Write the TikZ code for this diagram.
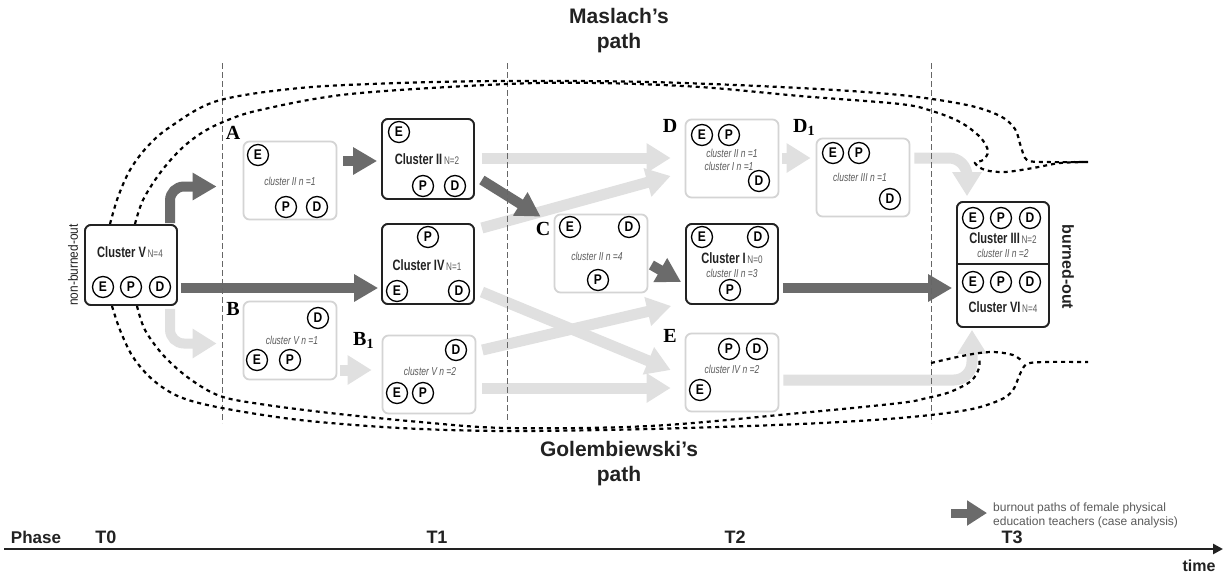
\documentclass[tikz,border=0pt]{standalone}
\usepackage{fontspec}
\setmainfont{Liberation Sans}
\newfontfamily\narrowf{Liberation Sans}[FakeStretch=0.74]
\newfontfamily\circf{Liberation Sans}[FakeStretch=0.86]
\newfontfamily\rotf{Liberation Sans}[FakeStretch=0.88]
\newfontfamily\labelserif{Liberation Serif}
\usetikzlibrary{arrows.meta,calc}

\definecolor{darkg}{HTML}{6B6B6B}
\definecolor{lightg}{HTML}{E0E0E0}
\definecolor{boxg}{HTML}{D4D4D4}
\definecolor{txtg}{HTML}{5A5A5A}
\definecolor{ink}{HTML}{222222}

\newcommand\pxsize[1]{\fontsize{#1}{#1}\selectfont}
\newcommand\clname[1]{{\narrowf\bfseries\pxsize{15}\color{ink}#1}}
\newcommand\clcount[1]{{\narrowf\pxsize{11}\color{txtg}#1}}
\newcommand\clsub[1]{{\narrowf\itshape\pxsize{11.5}\color{txtg}#1}}

\tikzset{
  darkbox/.style={draw=ink, fill=white, line width=1.8pt, rounded corners=6pt,
    minimum width=92pt, minimum height=80pt, inner sep=0pt},
  lightbox/.style={draw=boxg, fill=white, line width=1.8pt, rounded corners=6pt,
    minimum width=93pt, minimum height=78pt, inner sep=0pt},
  letter/.style={circle, draw=black, line width=1.3pt, minimum size=21pt,
    inner sep=0pt, font=\circf\bfseries\pxsize{14}},
  txt/.style={inner sep=0pt},
  tag/.style={inner sep=0pt, font=\labelserif\bfseries\pxsize{20}},
  darkarrow/.style={draw=darkg, line width=10pt, -{Triangle[length=24pt,width=26pt]}},
  lightarrow/.style={draw=lightg, line width=11pt, -{Triangle[length=24pt,width=28pt]}},
  phaseline/.style={draw=black!60, line width=0.8pt, dash pattern=on 6pt off 3pt},
  pathline/.style={draw=black, line width=2.2pt, dash pattern=on 4pt off 4pt},
  title/.style={align=center, inner sep=0pt, font=\bfseries\pxsize{21}, text=ink},
  axislabel/.style={inner sep=0pt, font=\bfseries\pxsize{18}, text=ink},
}

\begin{document}
\begin{tikzpicture}[x=1pt,y=-1pt]
\fill[white] (0,0) rectangle (1224,574);
\useasboundingbox (0,0) rectangle (1224,574);

% ---------- cluster boxes (placed first so connectors can refer to them) ----------
\node[darkbox]  (V)   at (131,265)   {};
\node[lightbox] (A)   at (290,180.5) {};
\node[lightbox] (B)   at (290,340.5) {};
\node[darkbox]  (II)  at (428,159)   {};
\node[darkbox]  (IV)  at (428,264)   {};
\node[lightbox] (B1)  at (429,374.5) {};
\node[lightbox] (C)   at (601,253.5) {};
\node[lightbox] (D)   at (732,158.5) {};
\node[darkbox]  (I)   at (732,264)   {};
\node[lightbox] (E)   at (732,372.5) {};
\node[lightbox] (D1)  at (863,177.5) {};
\node[darkbox, minimum height=125pt] (VI) at (1003,264.5) {};
\draw[ink, line width=1.8pt] ($(VI.west)+(0,-0.5)$) -- ($(VI.east)+(0,-0.5)$);

% ---------- transitions ----------
\draw[lightarrow] ($(II.east)+(7,-1)$) -- ($(D.west)+(-14,-0.5)$);
\draw[lightarrow] ($(IV.east)+(7,-36)$) -- ($(D.west)+(-14,17.5)$);
\draw[lightarrow] ($(IV.east)+(7,28)$) -- ($(E.west)+(-14,-2.5)$);
\draw[lightarrow] ($(B1.east)+(6,-24.5)$) -- ($(I.west)+(-14,42)$);
\draw[lightarrow] ($(B1.east)+(6,13.5)$) -- ($(E.west)+(-14,15.5)$);
\draw[lightarrow] ($(B.east)+(3,29.5)$) -- ($(B1.west)+(-10,-4.5)$);
\draw[lightarrow] ($(D.east)+(3,-0.5)$) -- ($(D1.west)+(-5,-19.5)$);
\draw[lightarrow, rounded corners=18pt] ($(D1.east)+(4,-19.5)$) -| ($(VI.north)+(-36,-5)$);
\draw[lightarrow, rounded corners=18pt] ($(E.east)+(4,7.5)$) -| ($(VI.south)+(-31,2)$);
\draw[lightarrow, line width=10pt, rounded corners=14pt] ($(V.south)+(39,3)$) |- ($(B.west)+(-26,3)$);

\draw[darkarrow, rounded corners=14pt] ($(V.north)+(39,-1)$) |- ($(A.west)+(-26,6)$);
\draw[darkarrow] ($(V.east)+(3,23)$) -- ($(IV.west)+(-3,24)$);
\draw[darkarrow] ($(A.east)+(6,-19.5)$) -- ($(II.west)+(-4,2)$);
\draw[darkarrow] ($(II.east)+(7,21)$) -- ($(C.north west)+(-13,3)$);
\draw[darkarrow] ($(C.east)+(3,11.5)$) -- ($(I.west)+(-4,18)$);
\draw[darkarrow] ($(I.east)+(4,24)$) -- ($(VI.west)+(-4,23.5)$);

% ---------- phase separators ----------
\draw[phaseline] (222,63) -- (222,423);
\draw[phaseline] (507,63) -- (507,423);
\draw[phaseline] (931,63) -- (931,423);

% ---------- Maslach's path (top) ----------
\draw[pathline] plot[smooth, tension=0.55] coordinates {
  (110,224) (118,197) (130,170) (147,147) (170,127) (217,101) (300,88)
  (400,83) (507,81) (650,82) (800,88) (900,95) (967,105) (1000,116)
  (1015,129) (1021,147) (1027,160) (1045,162) (1088,162)};
\draw[pathline] plot[smooth, tension=0.55] coordinates {
  (135,224) (143,200) (160,173) (180,150) (200,134) (223,122) (260,110)
  (350,94) (507,84) (600,83) (700,87) (800,96) (900,104) (932,111) (960,122)
  (980,137) (988,151) (983,160) (975,163) (985,170) (1005,172)
  (1033,168) (1060,163) (1088,162)};

% ---------- Golembiewski's path (bottom) ----------
\draw[pathline] plot[smooth, tension=0.55] coordinates {
  (112,306) (120,330) (133,357) (153,380) (180,397) (222,408) (300,420)
  (400,428) (507,431) (650,429) (800,424) (900,418) (967,410) (1000,400)
  (1013,390) (1020,374) (1027,364) (1045,362) (1088,362)};
\draw[pathline] plot[smooth, tension=0.55] coordinates {
  (137,306) (145,330) (164,356) (190,379) (220,396) (260,404) (330,413)
  (420,422) (507,428) (650,426) (800,413) (900,403) (927,398) (950,392)
  (971,381) (979,368) (979,357)};
\draw[pathline] plot[smooth, tension=0.55] coordinates {
  (931,363) (967,355) (992,352) (1013,355) (1023,362)};

% ---------- redraw boxes over the paths ----------
\node[darkbox]  at (V)  {};
\node[darkbox]  at (II) {};
\node[darkbox]  at (IV) {};
\node[darkbox]  at (I)  {};
\node[darkbox, minimum height=125pt] at (VI) {};
\draw[ink, line width=1.8pt] ($(VI.west)+(0,-0.5)$) -- ($(VI.east)+(0,-0.5)$);

% ---------- box contents ----------
% Cluster V
\node[txt] (Vt) at (130,252) {\clname{Cluster V}\,\clcount{N=4}};
\node[letter] (VE) at (103,287) {E};
\node[letter] (VP) at (131,287) {P};
\node[letter] (VD) at (160,287) {D};
% A
\node[letter] (AE) at (258,155) {E};
\node[txt] (At) at (290,181) {\clsub{cluster II n =1}};
\node[letter] (AP) at (286,207) {P};
\node[letter] (AD) at (317,207) {D};
% B
\node[letter] (BD) at (318,318) {D};
\node[txt] (Bt) at (292,340) {\clsub{cluster V n =1}};
\node[letter] (BE) at (257,360) {E};
\node[letter] (BP) at (290,360) {P};
% Cluster II
\node[letter] (IIE) at (399,132) {E};
\node[txt] (IIt) at (427,159) {\clname{Cluster II}\,\clcount{N=2}};
\node[letter] (IIP) at (423,186) {P};
\node[letter] (IID) at (455,186) {D};
% Cluster IV
\node[letter] (IVP) at (428,237) {P};
\node[txt] (IVt) at (427,265) {\clname{Cluster IV}\,\clcount{N=1}};
\node[letter] (IVE) at (397,291) {E};
\node[letter] (IVD) at (459,291) {D};
% B1
\node[letter] (B1D) at (456,350) {D};
\node[txt] (B1t) at (430,371) {\clsub{cluster V n =2}};
\node[letter] (B1E) at (397,393) {E};
\node[letter] (B1P) at (423,393) {P};
% C
\node[letter] (CE) at (570,227) {E};
\node[letter] (CD) at (629,227) {D};
\node[txt] (Ct) at (597,256) {\clsub{cluster II n =4}};
\node[letter] (CP) at (598,280) {P};
% D
\node[letter] (DE) at (702,135) {E};
\node[letter] (DP) at (729,135) {P};
\node[txt] (Dt1) at (732,153) {\clsub{cluster II n =1}};
\node[txt] (Dt2) at (729,166) {\clsub{cluster I n =1}};
\node[letter] (DD) at (759,181) {D};
% D1
\node[letter] (D1E) at (833,153) {E};
\node[letter] (D1P) at (859,153) {P};
\node[txt] (D1t) at (860,177) {\clsub{cluster III n =1}};
\node[letter] (D1D) at (890,199) {D};
% Cluster I
\node[letter] (IE) at (702,237) {E};
\node[letter] (ID) at (758,237) {D};
\node[txt] (It1) at (732,258) {\clname{Cluster I}\,\clcount{N=0}};
\node[txt] (It2) at (732,273) {\clsub{cluster II n =3}};
\node[letter] (IP) at (730,290) {P};
% E
\node[letter] (EP) at (729,349) {P};
\node[letter] (ED) at (757,349) {D};
\node[txt] (Et) at (732,369) {\clsub{cluster IV n =2}};
\node[letter] (EE) at (700,390) {E};
% Clusters III / VI
\node[letter] (IIIE) at (973,218) {E};
\node[letter] (IIIP) at (1001,218) {P};
\node[letter] (IIID) at (1030,218) {D};
\node[txt] (IIIt1) at (1003,238) {\clname{Cluster III}\,\clcount{N=2}};
\node[txt] (IIIt2) at (1003,253) {\clsub{cluster II n =2}};
\node[letter] (VIE) at (973,282) {E};
\node[letter] (VIP) at (1001,282) {P};
\node[letter] (VID) at (1030,282) {D};
\node[txt] (VIt) at (1003,307) {\clname{Cluster VI}\,\clcount{N=4}};

% ---------- box tags ----------
\node[tag] (tA)  at (233,133) {A};
\node[tag] (tB)  at (233,309) {B};
\node[tag, anchor=base west] (tB1) at (353,345) {B\textsubscript{1}};
\node[tag] (tC)  at (543,229) {C};
\node[tag] (tD)  at (670,126) {D};
\node[tag, anchor=base west] (tD1) at (793,132) {D\textsubscript{1}};
\node[tag] (tE)  at (670,336) {E};

% ---------- side labels ----------
\node[txt, rotate=90, font=\rotf\pxsize{13.5}, text=ink] (nbo) at (73,265) {non-burned-out};
\node[txt, rotate=-90, font=\bfseries\pxsize{16}, text=ink] (bo) at (1068,267) {burned-out};

% ---------- titles ----------
\node[title] (mas) at (619,31) {Maslach's\\[4pt]path};
\node[title] (gol) at (619,464) {Golembiewski's\\[4pt]path};

% ---------- legend ----------
\coordinate (legS) at (951,513);
\coordinate (legE) at (987,513);
\draw[draw=darkg, line width=9pt, -{Triangle[length=20pt,width=24pt]}] (legS) -- (legE);
\node[txt, anchor=west, align=left, font=\pxsize{12}, text=txtg] (legT) at (993,515)
  {burnout paths of female physical\\[2pt]education teachers (case analysis)};

% ---------- time axis ----------
\coordinate (axL) at (4,549);
\coordinate (axR) at (1223,549);
\draw[ink, line width=2.6pt, -{Triangle[length=10pt,width=10pt]}] (axL) -- (axR);
\node[axislabel, font=\bfseries\pxsize{17}] (ph) at (36,537) {Phase};
\node[axislabel] (t0) at (106,537) {T0};
\node[axislabel] (t1) at (437,537) {T1};
\node[axislabel] (t2) at (735,537) {T2};
\node[axislabel] (t3) at (1012,537) {T3};
\node[axislabel, font=\bfseries\pxsize{16}] (tm) at (1199,566) {time};

\end{tikzpicture}
\end{document}
